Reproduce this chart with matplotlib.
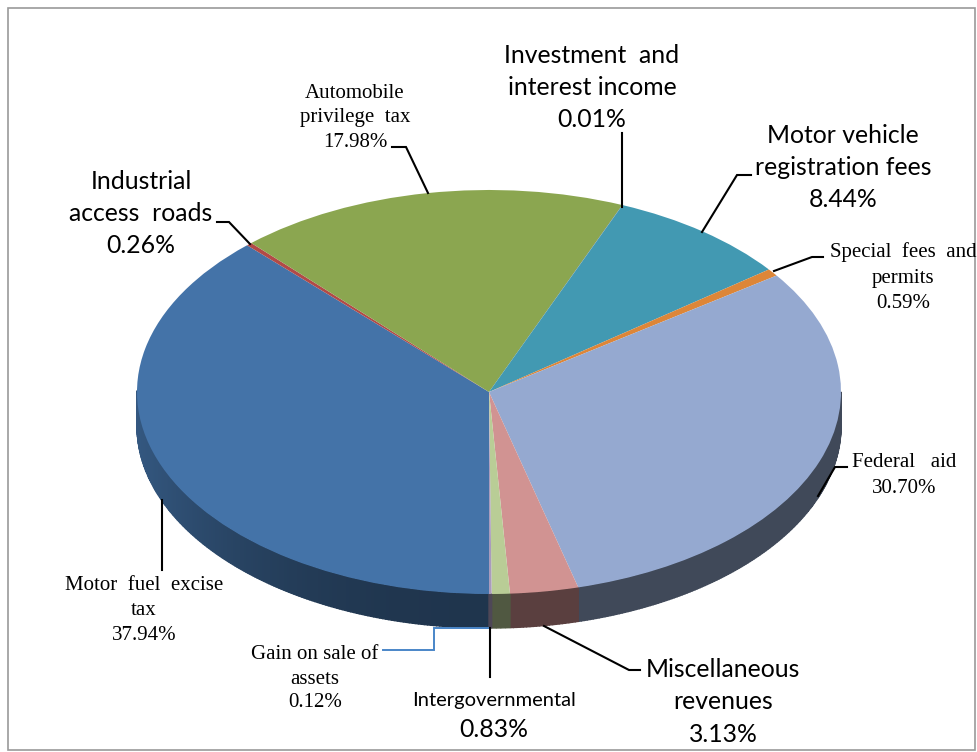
import numpy as np
import matplotlib.pyplot as plt
from matplotlib.colors import to_rgb
from matplotlib.patches import Rectangle

names = ['Motor fuel excise tax', 'Industrial access roads', 'Automobile privilege tax',
         'Investment and interest income', 'Motor vehicle registration fees',
         'Special fees and permits', 'Federal aid', 'Miscellaneous revenues',
         'Intergovernmental', 'Gain on sale of assets']
shares = [37.94, 0.26, 17.98, 0.01, 8.44, 0.59, 30.70, 3.13, 0.83, 0.12]
colors = ['#4473a8', '#b24a47', '#8ba650', '#7a5c9e', '#4299b2',
          '#dd8638', '#95a9d0', '#d19392', '#b9cd96', '#a99bbd']

W, H = 977, 752
cx, cy, rx, ry, depth = 489, 392, 352, 202, 34

fig = plt.figure(figsize=(W / 100, H / 100), dpi=100)

# pie axes: one data unit is rx wide and ry high, so the circle becomes the ellipse
ax = fig.add_axes([0, 0, 1, 1])
ax.pie(shares, colors=colors, startangle=270, counterclock=False, radius=1,
       wedgeprops={'linewidth': 0, 'zorder': 3})
ax.set_aspect('auto')
ax.set_xlim(-cx / rx, (W - cx) / rx)
ax.set_ylim((cy - H) / ry, cy / ry)
ax.axis('off')


def wall_shade(t):
    # darkest at the front of the wall, lighter out toward the sides
    return 0.46 + 0.30 * abs(np.cos(t)) ** 2.5


edges = 270 - np.cumsum([0] + shares) * 3.6
d = depth / ry
flat_walls = ['Federal aid', 'Miscellaneous revenues', 'Intergovernmental']
for i, col in enumerate(colors):
    a0, a1 = edges[i], edges[i + 1]
    ts = np.radians(np.linspace(a0, a1, max(3, int((a0 - a1) * 2))))
    base = np.array(to_rgb(col))
    for t0, t1 in zip(ts[:-1], ts[1:]):
        if np.sin(t0) > 0 and np.sin(t1) > 0:
            continue
        shade = 0.43 if names[i] in flat_walls else wall_shade((t0 + t1) / 2)
        xs = [np.cos(t0), np.cos(t1), np.cos(t1), np.cos(t0)]
        ys = [np.sin(t0), np.sin(t1), np.sin(t1) - d, np.sin(t0) - d]
        c = base * shade
        ax.fill(xs, ys, facecolor=c, edgecolor=c, lw=1.0, zorder=2)

# overlay in reference pixels for the labels and leader lines
ov = fig.add_axes([0, 0, 1, 1], facecolor='none')
ov.set_xlim(0, W)
ov.set_ylim(H, 0)
ov.axis('off')
ov.add_patch(Rectangle((8, 8), 967, 742, fill=False, ec='#9a9a9a', lw=1.2))

SANS = 'Lato'
SERIF = 'Liberation Serif'
label_text = [
    (['Investment  and', 'interest income', '0.01%'], 592, [54, 86, 118], SANS, 17.8),
    (['Motor vehicle', 'registration fees', '8.44%'], 843, [134, 166, 198], SANS, 17.8),
    (['Industrial', 'access  roads', '0.26%'], 141, [180, 212, 244], SANS, 17.8),
    (['Miscellaneous', 'revenues', '3.13%'], 723, [668, 700, 733], SANS, 17.8),
    (['Intergovernmental'], 494, [697], SANS, 14.5),
    (['0.83%'], 494, [728], SANS, 17.8),
    (['Automobile', 'privilege  tax', '17.98%'], 355, [91, 115, 140], SERIF, 15),
    (['Special  fees  and', 'permits', '0.59%'], 903, [250, 276, 301], SERIF, 15),
    (['Federal   aid', '30.70%'], 904, [460, 486], SERIF, 15),
    (['Motor  fuel  excise', 'tax', '37.94%'], 144, [583, 608, 633], SERIF, 15),
    (['Gain on sale of', 'assets', '0.12%'], 315, [652, 677, 700], SERIF, 15),
]
for lines, x, ys, fam, size in label_text:
    drop = 9 if fam == SANS else 7
    for line, y in zip(lines, ys):
        ov.text(x, y + drop, line, family=fam, fontsize=size, ha='center', va='baseline', color='black')

leaders = [
    ([622, 622], [207, 133]),
    ([702, 737, 751], [232, 175, 175]),
    ([774, 812, 823], [271, 257, 257]),
    ([428, 406, 392], [193, 147, 147]),
    ([250, 229, 217], [244, 222, 222]),
    ([818, 835, 847], [496, 467, 467]),
    ([162, 162], [500, 570]),
    ([490, 490], [628, 677]),
    ([544, 629, 640], [626, 670, 670]),
]
for xs, ys in leaders:
    ov.plot(xs, ys, color='black', lw=1.5, solid_joinstyle='miter')
ov.plot([488, 434, 434, 383], [628, 628, 650, 650], color='#4a86c8', lw=1.4, solid_joinstyle='miter')

fig.savefig('out.png', dpi=100)
